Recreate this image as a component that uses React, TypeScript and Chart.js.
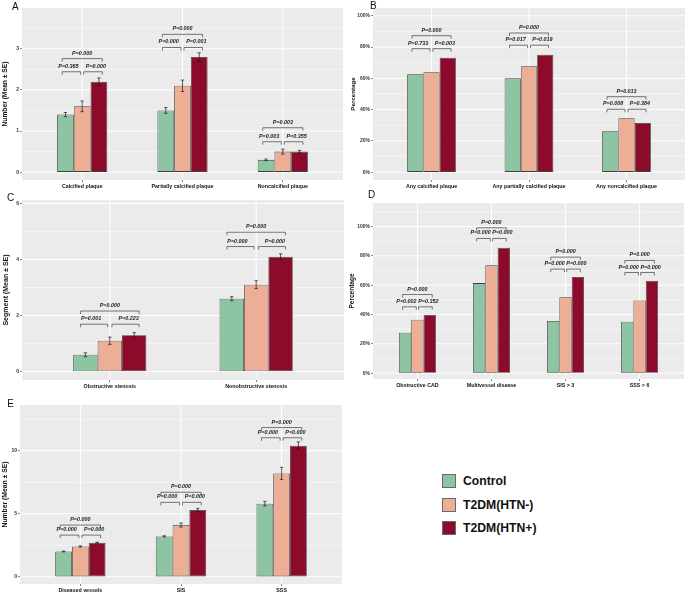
import React, { useEffect, useRef } from 'react';
import { Chart, registerables } from 'chart.js';
Chart.register(...registerables);

const FONT = '"Liberation Sans", Arial, sans-serif';

const groupNames = ['Control', 'T2DM(HTN-)', 'T2DM(HTN+)'];
const groupColors = ['#8DC5A2', '#EDAE96', '#8C0B2A'];

// ---------- Panel A ----------
const catsA = ['Calcified plaque', 'Partially calcified plaque', 'Noncalcified plaque'];
const controlA = [1.4, 1.5, 0.3];
const htnNegA = [1.6, 2.1, 0.5];
const htnPosA = [2.2, 2.8, 0.5];
const seControlA = [0.05, 0.07, 0.02];
const seHtnNegA = [0.13, 0.14, 0.06];
const seHtnPosA = [0.09, 0.1, 0.03];
const bracketLowA = [2.44, 3.03, 0.74];
const bracketHighA = [2.76, 3.35, 1.08];
const pLeftA = ['P=0.365', 'P=0.000', 'P=0.003'];
const pRightA = ['P=0.000', 'P=0.001', 'P=0.355'];
const pTopA = ['P=0.000', 'P=0.000', 'P=0.003'];
const yTicksA = [0, 1, 2, 3];
const yMinorA = [0.5, 1.5, 2.5, 3.5];

// ---------- Panel B ----------
const catsB = ['Any calcified plaque', 'Any partially calcified plaque', 'Any noncalcified plaque'];
const controlB = [62.7, 60.0, 26.2];
const htnNegB = [63.9, 67.7, 34.5];
const htnPosB = [73.2, 75.1, 31.5];
const bracketLowB = [79.0, 81.2, 40.2];
const bracketHighB = [87.3, 89.0, 48.3];
const pLeftB = ['P=0.733', 'P=0.017', 'P=0.008'];
const pRightB = ['P=0.003', 'P=0.019', 'P=0.384'];
const pTopB = ['P=0.000', 'P=0.000', 'P=0.013'];
const yTicksB = [0, 20, 40, 60, 80, 100];
const yMinorB = [10, 30, 50, 70, 90];

// ---------- Panel C ----------
const catsC = ['Obstructive stenosis', 'Nonobstructive stenosis'];
const controlC = [0.6, 2.6];
const htnNegC = [1.1, 3.1];
const htnPosC = [1.3, 4.1];
const seControlC = [0.07, 0.07];
const seHtnNegC = [0.13, 0.14];
const seHtnPosC = [0.09, 0.1];
const bracketLowC = [1.69, 4.46];
const bracketHighC = [2.16, 4.97];
const pLeftC = ['P=0.001', 'P=0.000'];
const pRightC = ['P=0.223', 'P=0.000'];
const pTopC = ['P=0.000', 'P=0.000'];
const yTicksC = [0, 2, 4, 6];
const yMinorC = [1, 3, 5];

// ---------- Panel D ----------
const catsD = ['Obstructive CAD', 'Multivessel disease', 'SIS > 3', 'SSS > 6'];
const controlD = [27.5, 61.4, 35.5, 35.0];
const htnNegD = [36.4, 73.6, 51.8, 49.5];
const htnPosD = [39.8, 85.5, 65.5, 63.0];
const bracketLowD = [45.2, 91.8, 70.9, 68.6];
const bracketHighD = [53.6, 99.1, 79.1, 76.8];
const pLeftD = ['P=0.002', 'P=0.000', 'P=0.000', 'P=0.000'];
const pRightD = ['P=0.352', 'P=0.000', 'P=0.000', 'P=0.000'];
const pTopD = ['P=0.000', 'P=0.000', 'P=0.000', 'P=0.000'];
const yTicksD = [0, 20, 40, 60, 80, 100];
const yMinorD = [10, 30, 50, 70, 90, 110];

// ---------- Panel E ----------
const catsE = ['Diseased vessels', 'SIS', 'SSS'];
const controlE = [2.0, 3.2, 5.8];
const htnNegE = [2.4, 4.1, 8.2];
const htnPosE = [2.7, 5.3, 10.4];
const seControlE = [0.03, 0.05, 0.18];
const seHtnNegE = [0.05, 0.16, 0.48];
const seHtnPosE = [0.04, 0.12, 0.3];
const bracketLowE = [3.3, 5.9, 11.03];
const bracketHighE = [4.1, 6.7, 11.84];
const pLeftE = ['P=0.000', 'P=0.000', 'P=0.000'];
const pRightE = ['P=0.000', 'P=0.000', 'P=0.000'];
const pTopE = ['P=0.000', 'P=0.000', 'P=0.000'];
const yTicksE = [0, 5, 10];
const yMinorE = [2.5, 7.5, 12.5];

type Rect = { x: number; y: number; w: number; h: number };
type Area = { l: number; t: number; r: number; b: number };
type PanelCfg = {
  cats: string[];
  values: number[][];
  errors?: number[][];
  low: number[];
  high: number[];
  pLeft: string[];
  pRight: string[];
  pTop: string[];
  yTicks: number[];
  yMinor: number[];
  yMin: number;
  yMax: number;
  percent: boolean;
  yTitle: string;
  titleSize: number;
  titlePad: number;
  canvas: Rect;
  area: Area;
};

const panels: PanelCfg[] = [
  {
    cats: catsA, values: [controlA, htnNegA, htnPosA], errors: [seControlA, seHtnNegA, seHtnPosA],
    low: bracketLowA, high: bracketHighA, pLeft: pLeftA, pRight: pRightA, pTop: pTopA,
    yTicks: yTicksA, yMinor: yMinorA, yMin: -0.19, yMax: 3.99, percent: false,
    yTitle: 'Number (Mean ± SE)', titleSize: 6.7, titlePad: 1.5,
    canvas: { x: 0, y: 0, w: 345, h: 192 }, area: { l: 22, t: 8, r: 343, b: 180 },
  },
  {
    cats: catsB, values: [controlB, htnNegB, htnPosB],
    low: bracketLowB, high: bracketHighB, pLeft: pLeftB, pRight: pRightB, pTop: pTopB,
    yTicks: yTicksB, yMinor: yMinorB, yMin: -5, yMax: 105, percent: true,
    yTitle: 'Percentage', titleSize: 6.2, titlePad: 4.3,
    canvas: { x: 345, y: 0, w: 340, h: 192 }, area: { l: 373, t: 8, r: 685, b: 180 },
  },
  {
    cats: catsC, values: [controlC, htnNegC, htnPosC], errors: [seControlC, seHtnNegC, seHtnPosC],
    low: bracketLowC, high: bracketHighC, pLeft: pLeftC, pRight: pRightC, pTop: pTopC,
    yTicks: yTicksC, yMinor: yMinorC, yMin: -0.3, yMax: 6.12, percent: false,
    yTitle: 'Segment (Mean ± SE)', titleSize: 7, titlePad: 1.8,
    canvas: { x: 0, y: 192, w: 345, h: 198 }, area: { l: 22, t: 200, r: 344, b: 380 },
  },
  {
    cats: catsD, values: [controlD, htnNegD, htnPosD],
    low: bracketLowD, high: bracketHighD, pLeft: pLeftD, pRight: pRightD, pTop: pTopD,
    yTicks: yTicksD, yMinor: yMinorD, yMin: -4, yMax: 116, percent: true,
    yTitle: 'Percentage', titleSize: 6.5, titlePad: 3.8,
    canvas: { x: 345, y: 192, w: 340, h: 198 }, area: { l: 373, t: 203, r: 684, b: 379 },
  },
  {
    cats: catsE, values: [controlE, htnNegE, htnPosE], errors: [seControlE, seHtnNegE, seHtnPosE],
    low: bracketLowE, high: bracketHighE, pLeft: pLeftE, pRight: pRightE, pTop: pTopE,
    yTicks: yTicksE, yMinor: yMinorE, yMin: -0.58, yMax: 13.63, percent: false,
    yTitle: 'Number (Mean ± SE)', titleSize: 6.8, titlePad: 0.9,
    canvas: { x: 0, y: 392, w: 345, h: 202 }, area: { l: 20, t: 405, r: 342, b: 584 },
  },
];

const letters = [
  { t: 'A', x: 12, base: 10 },
  { t: 'B', x: 370, base: 9.5 },
  { t: 'C', x: 7, base: 201.5 },
  { t: 'D', x: 368, base: 198.5 },
  { t: 'E', x: 7.3, base: 407.3 },
];

function makePlugin(c: PanelCfg) {
  return {
    id: 'ggpanel',
    beforeDraw(chart: any) {
      const { ctx, chartArea: a, scales } = chart;
      const y = scales.y;
      const x = scales.x;
      ctx.save();
      ctx.fillStyle = '#EBEBEB';
      ctx.fillRect(a.left, a.top, a.right - a.left, a.bottom - a.top);
      ctx.strokeStyle = '#FFFFFF';
      ctx.lineWidth = 0.5;
      for (const v of c.yMinor) {
        const p = y.getPixelForValue(v);
        ctx.beginPath(); ctx.moveTo(a.left, p); ctx.lineTo(a.right, p); ctx.stroke();
      }
      ctx.lineWidth = 1;
      for (const v of c.yTicks) {
        const p = y.getPixelForValue(v);
        ctx.beginPath(); ctx.moveTo(a.left, p); ctx.lineTo(a.right, p); ctx.stroke();
      }
      for (let i = 1; i <= c.cats.length; i++) {
        const p = x.getPixelForValue(i);
        ctx.beginPath(); ctx.moveTo(p, a.top); ctx.lineTo(p, a.bottom); ctx.stroke();
      }
      ctx.restore();
    },
    afterDatasetsDraw(chart: any) {
      const { ctx, scales } = chart;
      const y = scales.y;
      const x = scales.x;
      ctx.save();
      if (c.errors) {
        ctx.strokeStyle = '#1a1a1a';
        ctx.lineWidth = 0.7;
        c.errors.forEach((errs, d) => {
          const meta = chart.getDatasetMeta(d);
          errs.forEach((e, j) => {
            const bar = meta.data[j];
            const v = c.values[d][j];
            const yt = y.getPixelForValue(v + e);
            const yb = y.getPixelForValue(v - e);
            const bx = bar.x;
            ctx.beginPath();
            ctx.moveTo(bx, yt); ctx.lineTo(bx, yb);
            ctx.moveTo(bx - 1.7, yt); ctx.lineTo(bx + 1.7, yt);
            ctx.moveTo(bx - 1.7, yb); ctx.lineTo(bx + 1.7, yb);
            ctx.stroke();
          });
        });
      }
      const unit = x.getPixelForValue(2) - x.getPixelForValue(1);
      ctx.strokeStyle = '#555';
      ctx.lineWidth = 0.8;
      ctx.fillStyle = '#1a1a1a';
      ctx.font = `italic bold 5.4px ${FONT}`;
      ctx.textAlign = 'center';
      ctx.textBaseline = 'middle';
      const tip = 3;
      const bracket = (x0: number, x1: number, yy: number) => {
        ctx.beginPath();
        ctx.moveTo(x0, yy + tip); ctx.lineTo(x0, yy); ctx.lineTo(x1, yy); ctx.lineTo(x1, yy + tip);
        ctx.stroke();
      };
      c.cats.forEach((_, j) => {
        const cx = x.getPixelForValue(j + 1);
        const l0 = cx - 0.2 * unit;
        const m0 = cx - 0.015 * unit;
        const m1 = cx + 0.015 * unit;
        const r1 = cx + 0.2 * unit;
        const yl = y.getPixelForValue(c.low[j]);
        const yh = y.getPixelForValue(c.high[j]);
        bracket(l0, m0, yl);
        bracket(m1, r1, yl);
        bracket(l0, r1, yh);
        ctx.fillText(c.pLeft[j], (l0 + m0) / 2 - 3, yl - 5.5);
        ctx.fillText(c.pRight[j], (m1 + r1) / 2 + 3, yl - 5.5);
        ctx.fillText(c.pTop[j], cx, yh - 5.5);
      });
      ctx.restore();
    },
  };
}

function Panel({ c }: { c: PanelCfg }) {
  const ref = useRef<HTMLCanvasElement>(null);
  useEffect(() => {
    const n = c.cats.length;
    const datasets = c.values.map((vals, g) => ({
      label: groupNames[g],
      data: vals.map((v, i) => ({ x: i + 1, y: v })),
      backgroundColor: groupColors[g],
      borderColor: '#404040',
      borderWidth: 0.8,
      borderSkipped: false,
      categoryPercentage: 0.5,
      barPercentage: 1,
    }));
    const chart = new Chart(ref.current as HTMLCanvasElement, {
      type: 'bar',
      data: { datasets } as any,
      options: {
        animation: false,
        responsive: false,
        devicePixelRatio: 1,
        layout: {
          padding: {
            left: 0,
            top: c.area.t - c.canvas.y,
            right: c.canvas.x + c.canvas.w - c.area.r,
            bottom: 0,
          },
        },
        plugins: { legend: { display: false }, tooltip: { enabled: false } },
        scales: {
          x: {
            type: 'linear',
            min: 0.4,
            max: n + 0.6,
            offset: false,
            grid: {
              display: true, drawOnChartArea: false, drawTicks: true, tickLength: 2,
              tickColor: '#333', lineWidth: 0.6, offset: false,
            },
            border: { display: false },
            ticks: {
              autoSkip: false, maxRotation: 0, minRotation: 0, padding: 1,
              color: '#111',
              font: { family: FONT, size: 5.3, weight: 'bold' },
              callback: (v: any) => c.cats[Math.round(Number(v)) - 1] ?? '',
            },
            afterBuildTicks: (s: any) => {
              s.ticks = c.cats.map((_, i) => ({ value: i + 1 }));
            },
            afterFit: (s: any) => {
              s.height = c.canvas.y + c.canvas.h - c.area.b;
            },
          },
          y: {
            type: 'linear',
            min: c.yMin,
            max: c.yMax,
            grid: {
              display: true, drawOnChartArea: false, drawTicks: true, tickLength: 2,
              tickColor: '#333', lineWidth: 0.6,
            },
            border: { display: false },
            ticks: {
              padding: 1,
              color: '#333',
              font: { family: FONT, size: 5, weight: 'bold' },
              callback: (v: any) => (c.percent ? `${v}%` : `${v}`),
            },
            afterBuildTicks: (s: any) => {
              s.ticks = c.yTicks.map((v) => ({ value: v }));
            },
            afterFit: (s: any) => {
              s.width = c.area.l - c.canvas.x;
            },
            title: {
              display: true,
              text: c.yTitle,
              color: '#111',
              font: { family: FONT, size: c.titleSize, weight: 'bold' },
              padding: { top: c.titlePad, bottom: 0 },
            },
          },
        },
      } as any,
      plugins: [makePlugin(c) as any],
    });
    return () => chart.destroy();
  }, []);
  return (
    <canvas
      ref={ref}
      width={c.canvas.w}
      height={c.canvas.h}
      style={{ position: 'absolute', left: c.canvas.x, top: c.canvas.y, width: c.canvas.w, height: c.canvas.h }}
    />
  );
}

const legendY = [474, 497.5, 521];

export default function App() {
  return (
    <div style={{ position: 'absolute', left: 0, top: 0, width: 685, height: 594, background: '#fff', overflow: 'hidden' }}>
      {panels.map((p, i) => (
        <Panel key={i} c={p} />
      ))}
      {letters.map((l) => (
        <span
          key={l.t}
          style={{
            position: 'absolute', left: l.x, top: l.base - 8.5, fontFamily: FONT, fontSize: 10,
            lineHeight: '10px', color: '#111', whiteSpace: 'nowrap',
          }}
        >
          {l.t}
        </span>
      ))}
      {groupNames.map((g, i) => (
        <React.Fragment key={g}>
          <div
            style={{
              position: 'absolute', left: 442, top: legendY[i], width: 14, height: 14, boxSizing: 'border-box',
              background: groupColors[i], border: '1px solid #6a6a6a',
            }}
          />
          <span
            style={{
              position: 'absolute', left: 463, top: legendY[i], fontFamily: FONT, fontSize: 12.2,
              fontWeight: 'bold', lineHeight: '14px', color: '#111', whiteSpace: 'nowrap',
            }}
          >
            {g}
          </span>
        </React.Fragment>
      ))}
    </div>
  );
}
